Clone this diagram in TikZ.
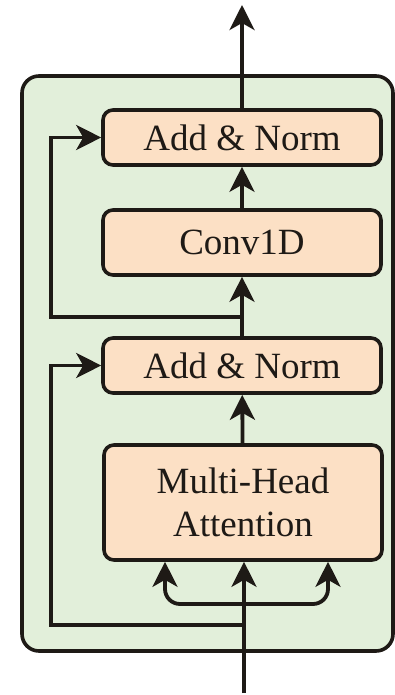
\documentclass[tikz,border=0pt]{standalone}
\usepackage{fontspec}
\setmainfont{Liberation Serif}
\usetikzlibrary{arrows.meta}
\definecolor{panelgreen}{RGB}{226,239,218}
\definecolor{blockpeach}{RGB}{252,224,197}
\definecolor{inkdark}{RGB}{30,26,22}
\tikzset{
  block/.style={draw=inkdark, line width=3.6pt, fill=blockpeach, rounded corners=10pt,
    minimum width=278pt, inner sep=0pt, text=inkdark, align=center,
    font=\fontsize{37}{43}\selectfont},
  flow/.style={draw=inkdark, line width=3.8pt,
    -{Stealth[length=25pt,width=25pt,inset=7pt]}},
}
\begin{document}
\begin{tikzpicture}[x=1pt,y=-1pt]
\useasboundingbox (0,0) rectangle (394,695);
% encoder layer panel
\draw[draw=inkdark, line width=3.6pt, fill=panelgreen, rounded corners=17pt]
  (22,76) rectangle (393,651);

% blocks
\node[block, minimum height=55pt]  (an2)  at (242,137.5) {Add \& Norm};
\node[block, minimum height=65pt]  (conv) at (242,242.5) {Conv1D};
\node[block, minimum height=55pt]  (an1)  at (242,365.5) {Add \& Norm};
\node[block, minimum height=115pt] (mha)  at (243,502.5) {Multi-Head\\Attention};

% junction points
\coordinate (out)  at (242,5);
\coordinate (inp)  at (244,693);
\coordinate (fork) at (244,604);
\coordinate (tap1) at (242,317);
\coordinate (tap0) at (244,625);

% main data path
\draw[flow] (inp) -- (mha.south -| inp);
\draw[flow] (mha) -- (an1);
\draw[flow] (an1) -- (conv);
\draw[flow] (conv) -- (an2);
\draw[flow] (an2) -- (out);

% query / key / value split
\draw[flow, rounded corners=15pt] (fork) -| ([xshift=-78pt]mha.south);
\draw[flow, rounded corners=15pt] (fork) -| ([xshift=85pt]mha.south);

% residual connections
\draw[flow] (tap0) -| ([xshift=-50pt]an1.west) -- (an1.west);
\draw[flow] (tap1) -| ([xshift=-50pt]an2.west) -- (an2.west);
\end{tikzpicture}
\end{document}
